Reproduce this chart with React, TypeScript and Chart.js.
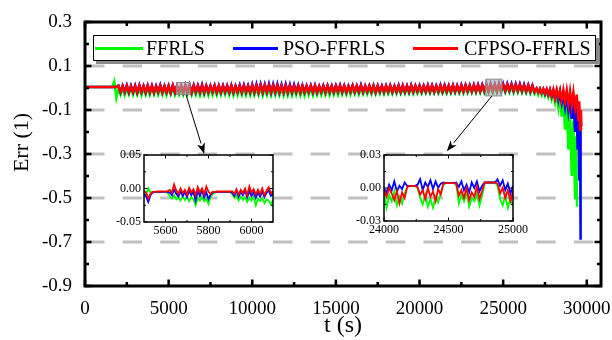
import React, { useEffect, useRef } from "react";
import { Chart, registerables } from "chart.js";

Chart.register(...registerables);

const FONT = "'Liberation Serif', 'Times New Roman', Times, serif";

const SERIES = ["FFRLS", "PSO-FFRLS", "CFPSO-FFRLS"];
const COLORS = ["#00ff00", "#0000ff", "#ff0000"];

// ---------- main chart axes ----------
const X_TICKS = [0, 5000, 10000, 15000, 20000, 25000, 30000];
const X_MINOR = [2500, 7500, 12500, 17500, 22500, 27500];
const Y_TICKS = [-0.9, -0.7, -0.5, -0.3, -0.1, 0.1, 0.3];
const Y_MINOR = [-0.8, -0.6, -0.4, -0.2, 0, 0.2];
const Y_GRID = [-0.7, -0.5, -0.3, -0.1, 0.1];

// ---------- main chart data (t sampled every 125 s from 0 to 26875 s) ----------
const MAIN_T0 = 0;
const MAIN_DT = 125;

const FFRLS_MAIN = [
  0.004, 0.004, 0.004, 0.004, 0.004, 0.004, 0.004, 0.004, 0.004, 0.004, 0.004, 0.004, 0.004, 0.004, 0.030, -0.045,
  -0.002, -0.030, 0.000, -0.032, -0.003, -0.029, -0.001, -0.031, 0.000, -0.030, -0.002, -0.033, -0.001, -0.030, 0.000, -0.032,
  -0.002, -0.029, -0.001, -0.031, 0.000, -0.030, -0.002, -0.032, -0.001, -0.029, 0.000, -0.031, -0.002, -0.030, -0.001, -0.031,
  0.000, -0.030, -0.002, -0.032, -0.001, -0.031, 0.000, -0.033, -0.002, -0.032, -0.001, -0.033, 0.000, -0.031, -0.002, -0.032,
  -0.001, -0.031, 0.000, -0.030, -0.002, -0.032, -0.001, -0.033, 0.000, -0.032, -0.002, -0.031, -0.001, -0.033, 0.000, -0.032,
  -0.002, -0.033, -0.001, -0.031, 0.000, -0.034, -0.002, -0.032, -0.001, -0.033, 0.000, -0.032, -0.002, -0.033, -0.001, -0.034,
  0.000, -0.033, -0.002, -0.034, -0.001, -0.032, 0.000, -0.033, -0.002, -0.034, -0.001, -0.032, 0.000, -0.033, -0.002, -0.031,
  -0.001, -0.032, 0.000, -0.031, -0.002, -0.033, -0.001, -0.030, 0.000, -0.031, -0.002, -0.029, -0.001, -0.030, 0.000, -0.029,
  -0.002, -0.028, -0.001, -0.029, 0.000, -0.027, -0.002, -0.028, -0.001, -0.027, 0.000, -0.028, -0.002, -0.026, -0.001, -0.027,
  0.000, -0.026, -0.002, -0.027, -0.001, -0.026, 0.000, -0.025, -0.002, -0.026, -0.001, -0.025, 0.000, -0.026, -0.002, -0.025,
  -0.001, -0.025, 0.000, -0.024, -0.002, -0.025, -0.001, -0.024, 0.000, -0.025, -0.002, -0.024, -0.001, -0.025, 0.000, -0.024,
  0.001, -0.024, 0.002, -0.023, 0.001, -0.024, 0.003, -0.023, 0.002, -0.022, 0.004, -0.023, 0.003, -0.022, 0.004, -0.022,
  0.005, -0.021, 0.006, -0.022, 0.005, -0.021, 0.006, -0.020, 0.006, -0.021, 0.005, -0.021, 0.006, -0.022, 0.005, -0.021,
  0.004, -0.022, 0.003, -0.023, 0.001, -0.025, -0.001, -0.026,
];
const PSO_MAIN = [
  0.005, 0.005, 0.005, 0.005, 0.005, 0.005, 0.005, 0.005, 0.005, 0.005, 0.005, 0.005, 0.005, 0.005, 0.005, 0.005,
  0.011, -0.019, 0.010, -0.018, 0.012, -0.020, 0.011, -0.019, 0.011, -0.021, 0.013, -0.018, 0.010, -0.020, 0.012, -0.019,
  0.011, -0.021, 0.009, -0.018, 0.014, -0.020, 0.010, -0.019, 0.011, -0.021, 0.013, -0.019, 0.011, -0.018, 0.010, -0.020,
  0.012, -0.019, 0.014, -0.020, 0.013, -0.018, 0.012, -0.019, 0.015, -0.020, 0.011, -0.019, 0.010, -0.018, 0.012, -0.020,
  0.011, -0.019, 0.012, -0.018, 0.011, -0.019, 0.013, -0.020, 0.010, -0.018, 0.013, -0.019, 0.014, -0.018, 0.012, -0.019,
  0.016, -0.019, 0.017, -0.020, 0.018, -0.019, 0.017, -0.018, 0.019, -0.020, 0.017, -0.019, 0.018, -0.020, 0.016, -0.019,
  0.017, -0.020, 0.016, -0.019, 0.015, -0.018, 0.013, -0.020, 0.012, -0.019, 0.011, -0.018, 0.012, -0.019, 0.012, -0.020,
  0.009, -0.018, 0.011, -0.019, 0.012, -0.018, 0.010, -0.019, 0.011, -0.017, 0.013, -0.018, 0.011, -0.019, 0.010, -0.017,
  0.012, -0.018, 0.011, -0.017, 0.014, -0.018, 0.010, -0.017, 0.011, -0.018, 0.012, -0.019, 0.011, -0.017, 0.010, -0.018,
  0.011, -0.017, 0.012, -0.018, 0.010, -0.017, 0.013, -0.018, 0.012, -0.017, 0.011, -0.018, 0.013, -0.017, 0.011, -0.016,
  0.012, -0.017, 0.011, -0.016, 0.013, -0.017, 0.012, -0.018, 0.011, -0.016, 0.014, -0.017, 0.013, -0.016, 0.012, -0.017,
  0.013, -0.016, 0.012, -0.017, 0.014, -0.016, 0.014, -0.015, 0.013, -0.016, 0.015, -0.015, 0.015, -0.015, 0.015, -0.014,
  0.018, -0.014, 0.019, -0.013, 0.018, -0.014, 0.020, -0.013, 0.019, -0.013, 0.020, -0.012, 0.019, -0.013, 0.019, -0.013,
  0.018, -0.014, 0.016, -0.015, 0.014, -0.017, 0.012, -0.018,
];
const CFPSO_MAIN = [
  0.005, 0.005, 0.005, 0.005, 0.005, 0.005, 0.005, 0.005, 0.005, 0.005, 0.005, 0.005, 0.005, 0.005, 0.005, 0.005,
  0.010, -0.018, 0.009, -0.017, 0.011, -0.019, 0.008, -0.018, 0.010, -0.020, 0.012, -0.017, 0.009, -0.019, 0.011, -0.018,
  0.010, -0.020, 0.008, -0.017, 0.011, -0.019, 0.009, -0.018, 0.010, -0.020, 0.012, -0.018, 0.010, -0.017, 0.009, -0.019,
  0.011, -0.018, 0.013, -0.019, 0.012, -0.017, 0.011, -0.018, 0.012, -0.019, 0.010, -0.018, 0.009, -0.017, 0.011, -0.019,
  0.010, -0.018, 0.009, -0.017, 0.010, -0.018, 0.011, -0.019, 0.008, -0.017, 0.010, -0.018, 0.011, -0.017, 0.009, -0.018,
  0.012, -0.018, 0.011, -0.019, 0.013, -0.018, 0.012, -0.017, 0.013, -0.019, 0.011, -0.018, 0.012, -0.019, 0.010, -0.018,
  0.011, -0.019, 0.010, -0.018, 0.009, -0.017, 0.011, -0.019, 0.010, -0.018, 0.009, -0.017, 0.010, -0.018, 0.011, -0.019,
  0.008, -0.017, 0.010, -0.018, 0.011, -0.017, 0.009, -0.018, 0.010, -0.016, 0.012, -0.017, 0.010, -0.018, 0.009, -0.016,
  0.011, -0.017, 0.010, -0.016, 0.011, -0.017, 0.009, -0.016, 0.010, -0.017, 0.011, -0.018, 0.010, -0.016, 0.009, -0.017,
  0.010, -0.016, 0.011, -0.017, 0.009, -0.016, 0.010, -0.017, 0.011, -0.016, 0.010, -0.017, 0.012, -0.016, 0.010, -0.015,
  0.011, -0.016, 0.010, -0.015, 0.012, -0.016, 0.011, -0.017, 0.010, -0.015, 0.011, -0.016, 0.012, -0.015, 0.011, -0.016,
  0.012, -0.015, 0.011, -0.016, 0.012, -0.015, 0.013, -0.014, 0.012, -0.015, 0.013, -0.014, 0.014, -0.014, 0.013, -0.013,
  0.014, -0.013, 0.015, -0.012, 0.014, -0.013, 0.016, -0.012, 0.015, -0.012, 0.016, -0.011, 0.015, -0.012, 0.016, -0.012,
  0.015, -0.013, 0.013, -0.014, 0.012, -0.016, 0.010, -0.017,
];

// ---------- end of discharge (t >= 27000 s) ----------
const FFRLS_TAIL_T = [
  27000, 27100, 27200, 27300, 27400, 27500, 27600, 27700, 27800, 27900,
  28000, 28100, 28200, 28300, 28400, 28500, 28600, 28700, 28800, 28900,
  29000, 29100, 29200, 29300, 29350, 29420,
];
const FFRLS_TAIL = [
  -0.006, -0.030, -0.008, -0.032, -0.010, -0.035, -0.013, -0.040, -0.016, -0.050,
  -0.020, -0.065, -0.026, -0.090, -0.034, -0.130, -0.045, -0.190, -0.070, -0.280,
  -0.100, -0.400, -0.150, -0.500, -0.220, -0.540,
];
const PSO_TAIL_T = [
  27000, 27100, 27200, 27300, 27400, 27500, 27600, 27700, 27800, 27900,
  28000, 28100, 28200, 28300, 28400, 28500, 28600, 28700, 28800, 28900,
  29000, 29100, 29200, 29300, 29400, 29450, 29500, 29550, 29600, 29630,
];
const PSO_TAIL = [
  -0.002, -0.019, -0.004, -0.022, -0.006, -0.027, -0.008, -0.032, -0.010, -0.038,
  -0.013, -0.046, -0.016, -0.056, -0.020, -0.068, -0.025, -0.085, -0.030, -0.105,
  -0.040, -0.140, -0.060, -0.200, -0.090, -0.280, -0.130, -0.420, -0.180, -0.690,
];
const CFPSO_TAIL_T = [
  27000, 27100, 27200, 27300, 27400, 27500, 27600, 27700, 27800, 27900,
  28000, 28100, 28200, 28300, 28400, 28500, 28600, 28700, 28800, 28900,
  29000, 29100, 29200, 29300, 29400, 29500, 29550, 29600, 29650, 29680,
];
const CFPSO_TAIL = [
  -0.002, -0.020, -0.003, -0.022, -0.004, -0.025, -0.005, -0.030, -0.006, -0.036,
  -0.007, -0.045, -0.008, -0.042, -0.010, -0.055, -0.010, -0.060, -0.012, -0.072,
  -0.015, -0.080, -0.020, -0.088, -0.030, -0.150, -0.060, -0.190, -0.100, -0.175,
];

// ---------- inset 1: 5500 - 6100 s, every 10 s ----------
const IN1_T0 = 5500;
const IN1_DT = 10;
const IN1_X_TICKS = [5600, 5800, 6000];
const IN1_X_MINOR = [5700, 5900];
const IN1_Y_TICKS = [-0.05, 0, 0.05];
const IN1_Y_MINOR = [-0.025, 0.025];
const FFRLS_IN1 = [
  -0.012, -0.008, 0.000, -0.006, -0.005, -0.005, -0.005, -0.005, -0.005, -0.005,
  -0.005, -0.006, -0.012, -0.015, -0.010, -0.016, -0.013, -0.018, -0.011, -0.017,
  -0.012, -0.019, -0.013, -0.016, -0.025, -0.014, -0.018, -0.012, -0.019, -0.015,
  -0.023, -0.012, -0.008, -0.006, -0.005, -0.005, -0.005, -0.005, -0.005, -0.005,
  -0.005, -0.008, -0.014, -0.010, -0.018, -0.012, -0.017, -0.013, -0.020, -0.014,
  -0.018, -0.012, -0.025, -0.015, -0.019, -0.014, -0.022, -0.016, -0.018, -0.024,
  -0.017,
];
const PSO_IN1 = [
  -0.008, -0.012, -0.020, -0.010, -0.006, -0.005, -0.005, -0.005, -0.005, -0.005,
  -0.005, -0.005, -0.006, -0.010, -0.002, -0.008, -0.012, -0.004, -0.011, -0.005,
  -0.013, -0.003, -0.010, -0.005, -0.018, -0.004, -0.011, -0.003, -0.013, -0.006,
  -0.016, -0.009, -0.006, -0.005, -0.005, -0.005, -0.005, -0.005, -0.005, -0.005,
  -0.005, -0.006, -0.011, -0.003, -0.012, -0.005, -0.010, -0.003, -0.013, -0.004,
  -0.011, -0.005, -0.014, -0.006, -0.012, -0.004, -0.013, -0.006, -0.003, -0.011,
  -0.008,
];
const CFPSO_IN1 = [
  -0.004, -0.006, -0.015, -0.008, -0.005, -0.005, -0.0045, -0.0045, -0.0045, -0.0045,
  -0.0045, -0.004, -0.002, -0.006, 0.006, -0.003, -0.008, 0.000, -0.007, -0.002,
  -0.009, 0.001, -0.006, -0.001, -0.010, 0.002, -0.006, 0.000, -0.009, 0.003,
  -0.005, -0.008, -0.005, -0.005, -0.0045, -0.0045, -0.0045, -0.0045, -0.0045, -0.0045,
  -0.0045, -0.004, -0.008, -0.001, -0.009, -0.002, -0.007, 0.000, -0.010, 0.003,
  -0.006, -0.001, -0.009, -0.002, -0.008, 0.000, -0.010, -0.003, 0.002, -0.007,
  -0.004,
];

// ---------- inset 2: 24000 - 25000 s, every 20 s ----------
const IN2_T0 = 24000;
const IN2_DT = 20;
const IN2_X_TICKS = [24000, 24500, 25000];
const IN2_X_MINOR = [24250, 24750];
const IN2_Y_TICKS = [-0.03, 0, 0.03];
const IN2_Y_MINOR = [-0.015, 0.015];
const FFRLS_IN2 = [
  -0.005, -0.018, -0.006, -0.012, -0.003, -0.016, -0.008, -0.014, -0.005, 0.001,
  0.002, 0.002, 0.002, 0.000, -0.009, -0.015, -0.006, -0.017, -0.010, -0.018,
  -0.008, -0.013, -0.004, 0.003, 0.0045, 0.0045, 0.0045, 0.0045, 0.003, -0.014,
  -0.006, -0.012, -0.003, -0.017, -0.009, -0.012, -0.005, -0.016, -0.007, 0.004,
  0.005, 0.005, 0.005, 0.005, 0.002, -0.010, -0.016, -0.007, -0.018, -0.009,
  -0.016,
];
const PSO_IN2 = [
  0.000, -0.004, 0.003, -0.002, 0.006, -0.003, 0.002, -0.001, 0.005, 0.002,
  0.002, 0.002, 0.002, 0.003, 0.008, -0.002, 0.005, 0.001, 0.007, -0.001,
  0.006, 0.000, 0.004, 0.005, 0.0045, 0.0045, 0.0045, 0.0045, 0.005, 0.001,
  0.006, -0.002, 0.003, -0.004, 0.005, 0.000, 0.006, -0.003, 0.002, 0.005,
  0.005, 0.005, 0.005, 0.005, 0.008, 0.002, 0.007, -0.002, 0.004, -0.005,
  0.002,
];
const CFPSO_IN2 = [
  -0.002, -0.008, 0.000, -0.005, -0.011, -0.003, -0.014, -0.004, -0.009, 0.001,
  0.002, 0.002, 0.002, 0.001, -0.006, -0.002, -0.010, 0.000, -0.008, -0.003,
  -0.012, -0.001, -0.006, 0.004, 0.0045, 0.0045, 0.0045, 0.0045, 0.004, -0.007,
  -0.002, -0.009, 0.000, -0.011, -0.004, -0.008, 0.001, -0.010, -0.003, 0.005,
  0.005, 0.005, 0.005, 0.005, 0.004, -0.005, 0.000, -0.009, -0.002, -0.012,
  -0.003,
];

// ---------- annotations (data space of main chart) ----------
const ZOOM_BOXES = [
  { x0: 5480, x1: 6280, y0: -0.029, y1: 0.025 },
  { x0: 23960, x1: 24920, y0: -0.036, y1: 0.040 },
];
const ARROWS = [
  { x0: 6040, y0: -0.031, x1: 7130, y1: -0.300 },
  { x0: 24320, y0: -0.037, x1: 21630, y1: -0.288 },
];

// ---------- helpers ----------
type P = { x: number; y: number };
function sampled(t0: number, dt: number, vals: number[]): P[] {
  return vals.map((v, i) => ({ x: t0 + i * dt, y: v }));
}
function paired(ts: number[], vals: number[]): P[] {
  return vals.map((v, i) => ({ x: ts[i], y: v }));
}

function drawFrame(
  ctx: CanvasRenderingContext2D,
  a: any,
  xs: any,
  ys: any,
  xMaj: number[],
  xMin: number[],
  yMaj: number[],
  yMin: number[],
  majLen: number,
  minLen: number,
  tickW: number,
  frameW: number
) {
  ctx.save();
  ctx.strokeStyle = "#000";
  ctx.lineCap = "butt";
  ctx.lineWidth = tickW;
  const tick = (vals: number[], len: number) => {
    for (const v of vals) {
      const px = xs.getPixelForValue(v);
      ctx.beginPath();
      ctx.moveTo(px, a.bottom);
      ctx.lineTo(px, a.bottom - len);
      ctx.moveTo(px, a.top);
      ctx.lineTo(px, a.top + len);
      ctx.stroke();
    }
  };
  const ytick = (vals: number[], len: number) => {
    for (const v of vals) {
      const py = ys.getPixelForValue(v);
      ctx.beginPath();
      ctx.moveTo(a.left, py);
      ctx.lineTo(a.left + len, py);
      ctx.moveTo(a.right, py);
      ctx.lineTo(a.right - len, py);
      ctx.stroke();
    }
  };
  tick(xMaj, majLen);
  tick(xMin, minLen);
  ytick(yMaj, majLen);
  ytick(yMin, minLen);
  ctx.lineWidth = frameW;
  ctx.strokeRect(a.left, a.top, a.right - a.left, a.bottom - a.top);
  ctx.restore();
}

const mainDecor = {
  id: "mainDecor",
  beforeDatasetsDraw(chart: any) {
    const { ctx, chartArea: a, scales } = chart;
    const ys = scales.y;
    ctx.save();
    ctx.strokeStyle = "#c0c0c0";
    ctx.lineWidth = 3;
    ctx.setLineDash([19.5, 18.1]);
    ctx.lineDashOffset = 0;
    for (const v of Y_GRID) {
      const py = ys.getPixelForValue(v);
      ctx.beginPath();
      ctx.moveTo(a.left, py);
      ctx.lineTo(a.right, py);
      ctx.stroke();
    }
    ctx.restore();
  },
  afterDatasetsDraw(chart: any) {
    const { ctx, chartArea: a, scales } = chart;
    const xs = scales.x;
    const ys = scales.y;
    ctx.save();
    for (const b of ZOOM_BOXES) {
      const x0 = xs.getPixelForValue(b.x0);
      const x1 = xs.getPixelForValue(b.x1);
      const y0 = ys.getPixelForValue(b.y1);
      const y1 = ys.getPixelForValue(b.y0);
      ctx.fillStyle = "rgba(170,170,170,0.6)";
      ctx.fillRect(x0, y0, x1 - x0, y1 - y0);
      ctx.strokeStyle = "#8c8c8c";
      ctx.lineWidth = 1;
      ctx.strokeRect(x0, y0, x1 - x0, y1 - y0);
    }
    for (const ar of ARROWS) {
      const x0 = xs.getPixelForValue(ar.x0);
      const y0 = ys.getPixelForValue(ar.y0);
      const x1 = xs.getPixelForValue(ar.x1);
      const y1 = ys.getPixelForValue(ar.y1);
      const ang = Math.atan2(y1 - y0, x1 - x0);
      const L = 11;
      const W = 4;
      const bx = x1 - L * Math.cos(ang);
      const by = y1 - L * Math.sin(ang);
      ctx.strokeStyle = "#000";
      ctx.lineWidth = 1;
      ctx.beginPath();
      ctx.moveTo(x0, y0);
      ctx.lineTo(bx, by);
      ctx.stroke();
      ctx.fillStyle = "#000";
      ctx.beginPath();
      ctx.moveTo(x1, y1);
      ctx.lineTo(bx + W * Math.sin(ang), by - W * Math.cos(ang));
      ctx.lineTo(bx + 3 * Math.cos(ang), by + 3 * Math.sin(ang));
      ctx.lineTo(bx - W * Math.sin(ang), by + W * Math.cos(ang));
      ctx.closePath();
      ctx.fill();
    }
    ctx.restore();

    drawFrame(ctx, a, xs, ys, X_TICKS, X_MINOR, Y_TICKS, Y_MINOR, 6.5, 4, 2.5, 3);

    // legend
    ctx.save();
    const LX = 93, LY = 35, LW = 503, LH = 26;
    ctx.fillStyle = "#8a8a8a";
    ctx.fillRect(LX + 3, LY + 3, LW, LH);
    ctx.fillStyle = "#fff";
    ctx.fillRect(LX, LY, LW, LH);
    ctx.strokeStyle = "#000";
    ctx.lineWidth = 1;
    ctx.strokeRect(LX + 0.5, LY + 0.5, LW - 1, LH - 1);
    const items = [
      { s: 95, e: 143, t: 146 },
      { s: 233, e: 278, t: 283 },
      { s: 413, e: 458, t: 464 },
    ];
    ctx.font = `20px ${FONT}`;
    ctx.textBaseline = "middle";
    ctx.textAlign = "left";
    items.forEach((it, i) => {
      ctx.strokeStyle = COLORS[i];
      ctx.lineWidth = 3;
      ctx.beginPath();
      ctx.moveTo(it.s, LY + 13.5);
      ctx.lineTo(it.e, LY + 13.5);
      ctx.stroke();
      ctx.fillStyle = "#000";
      ctx.fillText(SERIES[i], it.t, LY + 14.5);
    });
    ctx.restore();

    // axis titles
    ctx.save();
    ctx.fillStyle = "#000";
    ctx.textAlign = "center";
    ctx.textBaseline = "middle";
    ctx.font = `24px ${FONT}`;
    ctx.fillText("t (s)", (a.left + a.right) / 2, 326);
    ctx.translate(22, 142.5);
    ctx.rotate(-Math.PI / 2);
    ctx.font = `22px ${FONT}`;
    ctx.fillText("Err (1)", 0, 0);
    ctx.restore();
  },
};

function makeMain(canvas: HTMLCanvasElement) {
  const data = [
    sampled(MAIN_T0, MAIN_DT, FFRLS_MAIN).concat(paired(FFRLS_TAIL_T, FFRLS_TAIL)),
    sampled(MAIN_T0, MAIN_DT, PSO_MAIN).concat(paired(PSO_TAIL_T, PSO_TAIL)),
    sampled(MAIN_T0, MAIN_DT, CFPSO_MAIN).concat(paired(CFPSO_TAIL_T, CFPSO_TAIL)),
  ];
  return new Chart(canvas, {
    type: "line",
    data: {
      datasets: SERIES.map((name, i) => ({
        label: name,
        data: data[i],
        borderColor: COLORS[i],
        backgroundColor: COLORS[i],
        borderWidth: 2.5,
        pointRadius: 0,
        tension: 0,
        fill: false,
        order: 3 - i,
      })),
    },
    options: {
      animation: false,
      responsive: false,
      maintainAspectRatio: false,
      events: [],
      layout: { padding: { left: 0, top: 22, right: 11, bottom: 0 } },
      plugins: { legend: { display: false }, tooltip: { enabled: false } },
      scales: {
        x: {
          type: "linear",
          min: 0,
          max: 30850,
          grid: { display: false, drawTicks: false },
          border: { display: false },
          ticks: {
            font: { family: FONT, size: 19 },
            color: "#000",
            padding: 12,
            maxRotation: 0,
            autoSkip: false,
            includeBounds: false,
            callback: (v: any) => String(v),
          },
          afterBuildTicks: (s: any) => {
            s.ticks = X_TICKS.map((v) => ({ value: v }));
          },
          afterFit: (s: any) => {
            s.height = 54;
            s.paddingLeft = 0;
            s.paddingRight = 0;
          },
        },
        y: {
          type: "linear",
          min: -0.9,
          max: 0.3,
          grid: { display: false, drawTicks: false },
          border: { display: false },
          ticks: {
            font: { family: FONT, size: 19 },
            color: "#000",
            padding: 13,
            autoSkip: false,
            includeBounds: false,
            callback: (v: any) => Number(v).toFixed(1),
          },
          afterBuildTicks: (s: any) => {
            s.ticks = Y_TICKS.map((v) => ({ value: v }));
          },
          afterFit: (s: any) => {
            s.width = 85;
            s.paddingTop = 0;
            s.paddingBottom = 0;
          },
        },
      },
    },
    plugins: [mainDecor],
  } as any);
}

type InsetCfg = {
  t0: number;
  dt: number;
  series: number[][];
  xMin: number;
  xMax: number;
  yMin: number;
  yMax: number;
  xTicks: number[];
  xMinor: number[];
  yTicks: number[];
  yMinor: number[];
  yw: number;
  xh: number;
  pt: number;
  pr: number;
};

const INSET1: InsetCfg = {
  t0: IN1_T0, dt: IN1_DT, series: [FFRLS_IN1, PSO_IN1, CFPSO_IN1],
  xMin: 5500, xMax: 6100, yMin: -0.05, yMax: 0.05,
  xTicks: IN1_X_TICKS, xMinor: IN1_X_MINOR, yTicks: IN1_Y_TICKS, yMinor: IN1_Y_MINOR,
  yw: 44, xh: 25, pt: 8, pr: 17,
};
const INSET2: InsetCfg = {
  t0: IN2_T0, dt: IN2_DT, series: [FFRLS_IN2, PSO_IN2, CFPSO_IN2],
  xMin: 24000, xMax: 25000, yMin: -0.03, yMax: 0.03,
  xTicks: IN2_X_TICKS, xMinor: IN2_X_MINOR, yTicks: IN2_Y_TICKS, yMinor: IN2_Y_MINOR,
  yw: 44, xh: 26, pt: 8, pr: 22,
};

function makeInset(canvas: HTMLCanvasElement, cfg: InsetCfg) {
  const decor = {
    id: "insetDecor",
    afterDatasetsDraw(chart: any) {
      const { ctx, chartArea: a, scales } = chart;
      drawFrame(ctx, a, scales.x, scales.y, cfg.xTicks, cfg.xMinor, cfg.yTicks, cfg.yMinor, 3.5, 2, 1, 1.5);
    },
  };
  return new Chart(canvas, {
    type: "line",
    data: {
      datasets: SERIES.map((name, i) => ({
        label: name,
        data: sampled(cfg.t0, cfg.dt, cfg.series[i]),
        borderColor: COLORS[i],
        backgroundColor: COLORS[i],
        borderWidth: 1.8,
        pointRadius: 0,
        tension: 0,
        fill: false,
        order: 3 - i,
      })),
    },
    options: {
      animation: false,
      responsive: false,
      maintainAspectRatio: false,
      events: [],
      layout: { padding: { left: 0, top: cfg.pt, right: cfg.pr, bottom: 0 } },
      plugins: { legend: { display: false }, tooltip: { enabled: false } },
      scales: {
        x: {
          type: "linear",
          min: cfg.xMin,
          max: cfg.xMax,
          grid: { display: false, drawTicks: false },
          border: { display: false },
          ticks: {
            font: { family: FONT, size: 12 },
            color: "#000",
            padding: 2,
            maxRotation: 0,
            autoSkip: false,
            includeBounds: false,
            callback: (v: any) => String(v),
          },
          afterBuildTicks: (s: any) => {
            s.ticks = cfg.xTicks.map((v) => ({ value: v }));
          },
          afterFit: (s: any) => {
            s.height = cfg.xh;
            s.paddingLeft = 0;
            s.paddingRight = 0;
          },
        },
        y: {
          type: "linear",
          min: cfg.yMin,
          max: cfg.yMax,
          grid: { display: false, drawTicks: false },
          border: { display: false },
          ticks: {
            font: { family: FONT, size: 12 },
            color: "#000",
            padding: 3,
            autoSkip: false,
            includeBounds: false,
            callback: (v: any) => (Math.abs(Number(v)) < 1e-9 ? 0 : Number(v)).toFixed(2),
          },
          afterBuildTicks: (s: any) => {
            s.ticks = cfg.yTicks.map((v) => ({ value: v }));
          },
          afterFit: (s: any) => {
            s.width = cfg.yw;
            s.paddingTop = 0;
            s.paddingBottom = 0;
          },
        },
      },
    },
    plugins: [decor],
  } as any);
}

export default function App() {
  const mainRef = useRef<HTMLCanvasElement>(null);
  const in1Ref = useRef<HTMLCanvasElement>(null);
  const in2Ref = useRef<HTMLCanvasElement>(null);

  useEffect(() => {
    const charts: Chart[] = [];
    if (mainRef.current) charts.push(makeMain(mainRef.current));
    if (in1Ref.current) charts.push(makeInset(in1Ref.current, INSET1));
    if (in2Ref.current) charts.push(makeInset(in2Ref.current, INSET2));
    return () => charts.forEach((c) => c.destroy());
  }, []);

  return (
    <div
      style={{
        position: "absolute",
        left: 0,
        top: 0,
        width: 612,
        height: 340,
        background: "#fff",
        overflow: "hidden",
      }}
    >
      <canvas
        ref={mainRef}
        width={612}
        height={340}
        style={{ position: "absolute", left: 0, top: 0, width: 612, height: 340 }}
      />
      <canvas
        ref={in1Ref}
        width={190}
        height={100}
        style={{ position: "absolute", left: 100, top: 147, width: 190, height: 100 }}
      />
      <canvas
        ref={in2Ref}
        width={195}
        height={100}
        style={{ position: "absolute", left: 340, top: 147, width: 195, height: 100 }}
      />
    </div>
  );
}
